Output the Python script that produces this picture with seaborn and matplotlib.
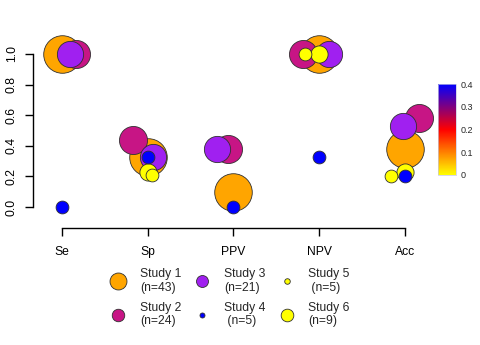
import numpy as np
import pandas as pd
import matplotlib
matplotlib.use("Agg")
import matplotlib.pyplot as plt
from matplotlib.colors import LinearSegmentedColormap, Normalize
from matplotlib.cm import ScalarMappable
from matplotlib.lines import Line2D
import seaborn as sns

# ---- data ----
metrics = ["Se", "Sp", "PPV", "NPV", "Acc"]
studies = ["Study 1", "Study 2", "Study 3", "Study 4", "Study 5", "Study 6"]
n_sizes = [43, 24, 21, 5, 5, 9]
study_colors = ["#FFA500", "#C71585", "#A020F0", "#0000FF", "#FFFF00", "#FFFF00"]

vals_s1 = [1.0, 0.33, 0.10, 1.0, 0.38]
vals_s2 = [1.0, 0.44, 0.38, 1.0, 0.58]
vals_s3 = [1.0, 0.33, 0.38, 1.0, 0.53]
vals_s4 = [0.0, 0.33, 0.0, 0.33, 0.20]
vals_s5 = [np.nan, 0.21, np.nan, 1.0, 0.20]
vals_s6 = [np.nan, 0.23, np.nan, 1.0, 0.23]

# horizontal jitter (category units)
jit_s1 = [0.0, 0.0, 0.0, 0.0, 0.0]
jit_s2 = [0.16, -0.175, -0.065, -0.19, 0.167]
jit_s3 = [0.09, 0.065, -0.196, 0.11, -0.02]
jit_s4 = [0.0, 0.0, 0.0, 0.0, 0.0]
jit_s5 = [0.0, 0.05, 0.0, -0.17, -0.163]
jit_s6 = [0.0, 0.0, 0.0, 0.0, 0.0]

all_vals = [vals_s1, vals_s2, vals_s3, vals_s4, vals_s5, vals_s6]
all_jit = [jit_s1, jit_s2, jit_s3, jit_s4, jit_s5, jit_s6]

legend_labels = ["Study 1\n(n=43)", "Study 2\n(n=24)", "Study 3\n(n=21)",
                 "Study 4\n (n=5)", "Study 5\n (n=5)", "Study 6\n(n=9)"]
legend_ms = [12.2, 9.0, 8.6, 3.6, 4.0, 9.1]

cbar_ticks = [0, 0.1, 0.2, 0.3, 0.4]
cbar_labels = ["0", "0.1", "0.2", "0.3", "0.4"]

rows = []
for i, st in enumerate(studies):
    for j, m in enumerate(metrics):
        rows.append({"study": st, "idx": i, "metric": m,
                     "x": j + all_jit[i][j], "value": all_vals[i][j],
                     "n": n_sizes[i]})
df = pd.DataFrame(rows).dropna()

# ---- style ----
sns.set_style("ticks")
plt.rcParams["font.family"] = ["Liberation Sans", "DejaVu Sans"]
plt.rcParams["font.size"] = 8.7

fig = plt.figure(figsize=(4.8, 3.45), dpi=100)
ax = fig.add_axes([0.06875, 0.3391, 0.904 - 0.06875, 0.9043 - 0.3391])

draw_order = [0, 1, 2, 5, 3, 4]
for i in draw_order:
    sub = df[df["idx"] == i]
    sns.scatterplot(data=sub, x="x", y="value", color=study_colors[i],
                    s=17 * n_sizes[i], edgecolor="#303030", linewidth=0.6,
                    clip_on=False, legend=False, ax=ax, zorder=3)

ax.set_xlim(-0.338, 4.338)
ax.set_ylim(-0.137, 1.137)
for sp in ["top", "right"]:
    ax.spines[sp].set_visible(False)
ax.spines["left"].set_bounds(0, 1)
ax.spines["bottom"].set_bounds(0, 4)
for sp in ["left", "bottom"]:
    ax.spines[sp].set_linewidth(1.0)
    ax.spines[sp].set_color("black")

ax.set_xticks(range(len(metrics)))
ax.set_xticklabels(metrics)
yt = [0, 0.2, 0.4, 0.6, 0.8, 1.0]
ax.set_yticks(yt)
ax.set_yticklabels([f"{v:.1f}" for v in yt], rotation=90, va="center")
ax.tick_params(axis="both", direction="out", length=5.8, width=1.0,
               color="black", labelcolor="black", labelsize=8.7,
               left=True, bottom=True)
ax.tick_params(axis="y", pad=5)
ax.tick_params(axis="x", pad=7)
ax.set_xlabel("")
ax.set_ylabel("")

# ---- colorbar ----
cmap = LinearSegmentedColormap.from_list("ybr", ["#FFFF00", "#FF0000", "#0000FF"])
cax = fig.add_axes([438 / 480, 1 - 175 / 345, 18 / 480, 91 / 345])
cb = fig.colorbar(ScalarMappable(norm=Normalize(0, 0.4), cmap=cmap), cax=cax)
cb.set_ticks(cbar_ticks)
cb.set_ticklabels(cbar_labels)
cb.outline.set_linewidth(0.5)
cb.outline.set_edgecolor("#c8c8e0")
cax.tick_params(length=0, pad=3, labelsize=6.5)

# ---- legend ----
handles = [Line2D([], [], linestyle="", marker="o", markersize=legend_ms[i],
                  markerfacecolor=study_colors[i], markeredgecolor="#303030",
                  markeredgewidth=0.6) for i in range(len(studies))]
leg = fig.legend(handles, legend_labels, ncol=3, loc="upper left",
                 bbox_to_anchor=(109 / 480, 1 - 268 / 345), frameon=False,
                 handlelength=1.5, handletextpad=1.05, columnspacing=1.0,
                 labelspacing=0.65, fontsize=8.7, borderaxespad=0, borderpad=0)

fig.savefig("out.png", dpi=100)
